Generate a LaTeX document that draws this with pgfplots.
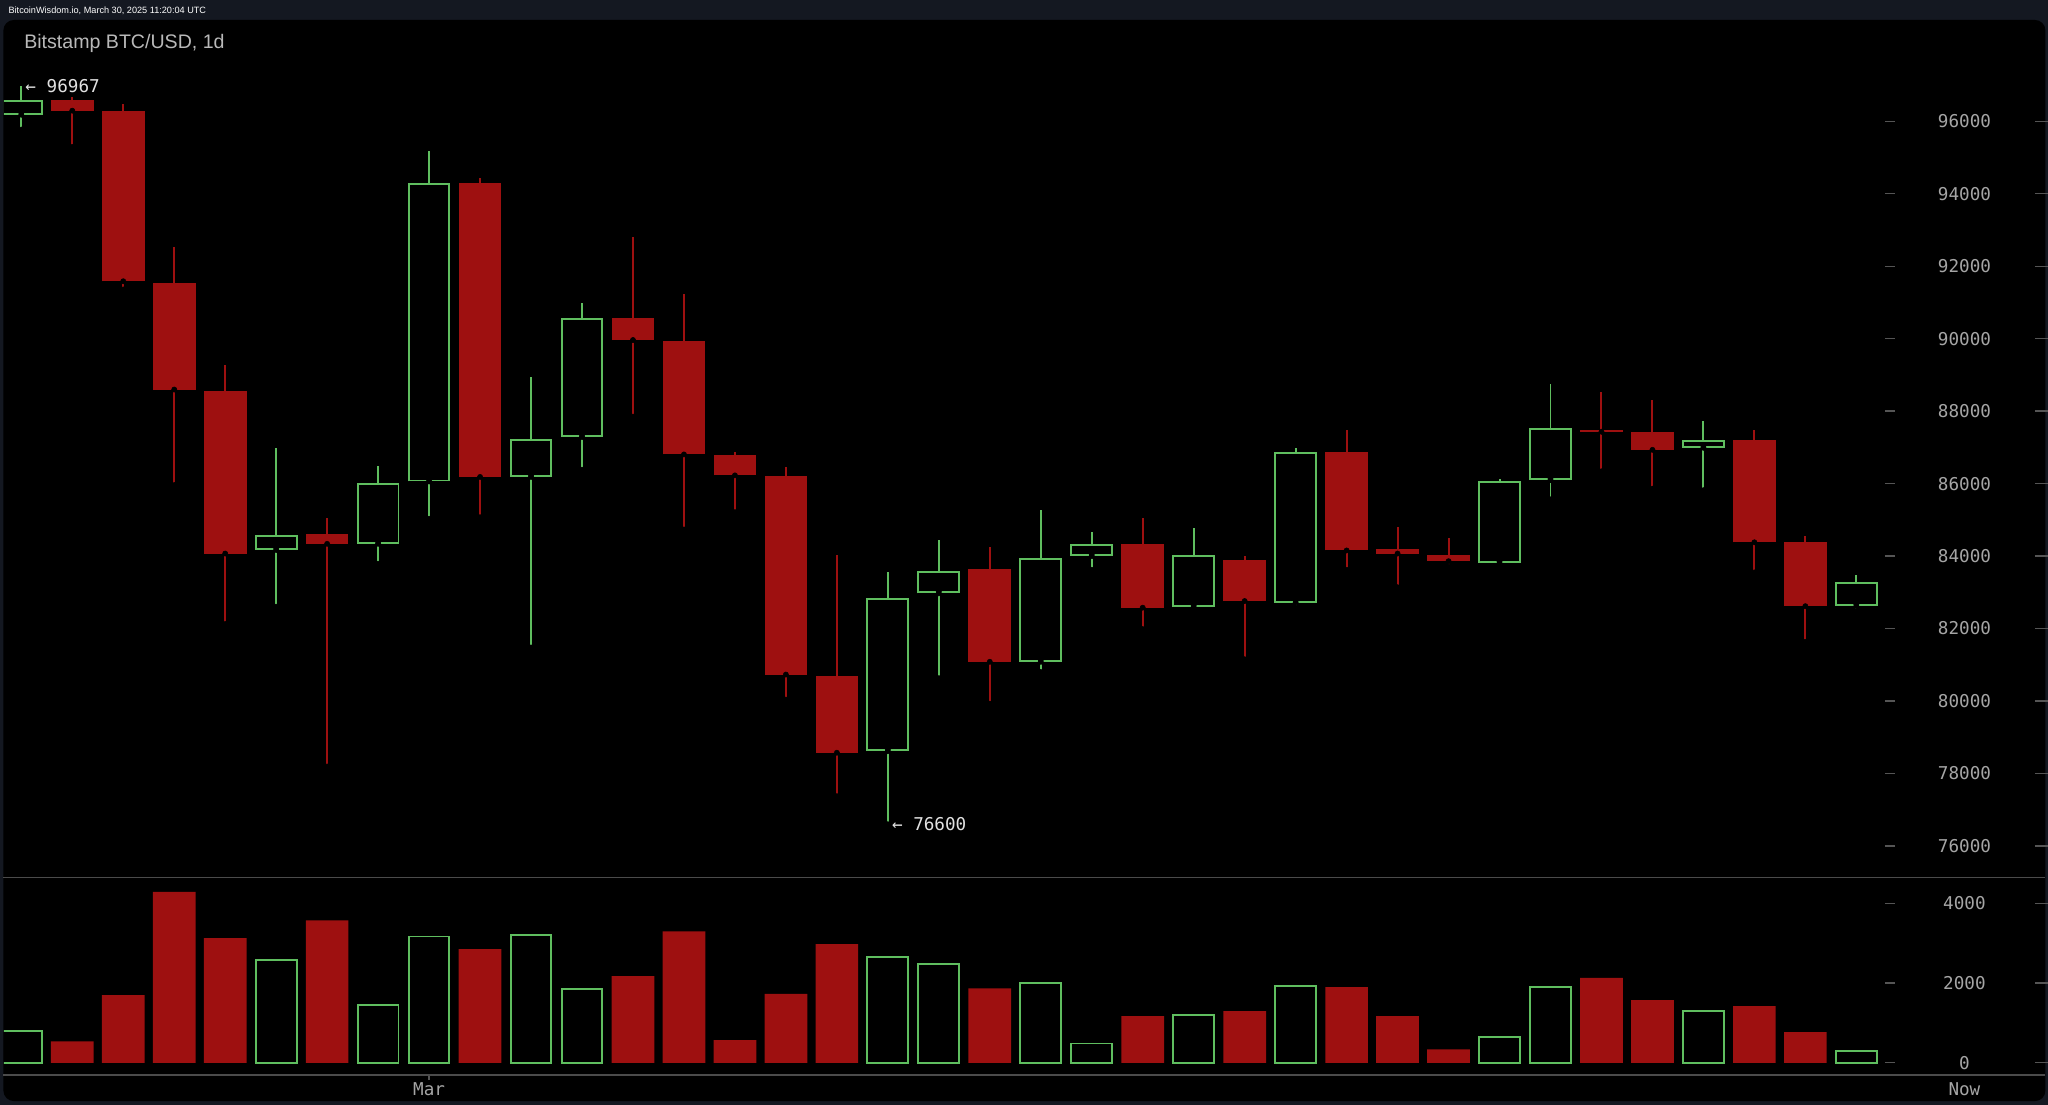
\documentclass[border=0pt]{standalone}
\usepackage{pgfplots}
\pgfplotsset{compat=1.18}
\usepackage{pgfplotstable}
\usepackage{fontspec}
\setmainfont{Liberation Sans}
\newfontfamily\monofont{DejaVu Sans Mono}
\definecolor{navy}{RGB}{20,24,33}
\definecolor{cred}{RGB}{158,16,16}
\definecolor{cgreen}{RGB}{95,190,95}
\definecolor{tickgray}{RGB}{165,165,165}
\definecolor{dashgray}{RGB}{85,85,85}
\definecolor{sepgray}{RGB}{75,75,75}
\definecolor{titlegray}{RGB}{185,185,185}
\definecolor{annotwhite}{RGB}{225,225,225}
\newcommand{\tickfont}{\monofont\fontsize{13.5}{16}\selectfont}
\newcommand{\ytl}[1]{\makebox[0pt][r]{\textcolor{dashgray}{\rule[4.4pt]{8pt}{1pt}}\hspace{53pt}}\makebox[0pt]{#1}\makebox[0pt][l]{\hspace{54pt}\textcolor{dashgray}{\rule[4.4pt]{10pt}{1pt}}}}

\pgfplotstableread{
x o h l c v
0 96178 96967 95769 96572 803
5 84169 86988 82604 84592 2569
7 84338 86494 83788 86015 1448
8 86058 95177 85029 94289 3171
10 86184 88933 81477 87242 3213
11 87284 90991 86382 90582 1849
17 78615 83549 76600 82844 2644
18 82971 84437 80631 83591 2485
20 81082 85282 80800 83957 2008
21 84000 84662 83619 84338 485
23 82590 84761 82477 84042 1205
25 82717 86974 82576 86861 1933
29 83802 86114 83790 86058 653
30 86100 88750 85564 87523 1891
33 86988 87735 85818 87199 1289
36 82620 83464 82477 83295 293
}\greentab

\pgfplotstableread{
x o h l c v
1 96572 96671 95290 96290 536
2 96276 96488 91357 91583 1699
3 91526 92527 85959 88595 4293
4 88566 89285 82125 84070 3130
6 84606 85043 78193 84338 3573
9 94289 94430 85071 86184 2853
12 90582 92795 87848 89962 2176
13 89934 91244 84733 86805 3297
14 86777 86861 85212 86227 569
15 86198 86466 80039 80730 1732
16 80701 84028 77375 78573 2979
19 83647 84253 79926 81082 1866
22 84338 85057 81984 82576 1172
24 83901 84000 81152 82759 1297
26 86861 87481 83619 84155 1900
27 84183 84803 83140 84070 1172
28 84042 84493 83704 83859 335
31 87475 88524 86339 87430 2134
32 87425 88313 85860 86931 1573
34 87199 87481 83549 84380 1423
35 84394 84563 81632 82618 770
}\redtab

\pgfplotsset{
  candlewick/.style={only marks, mark=none, forget plot,
    error bars/.cd, y dir=plus, y explicit, error mark=none,
    error bar style={line width=1.5pt, color=#1}},
  candlebody/.style 2 args={only marks, mark=none, forget plot,
    error bars/.cd, y dir=plus, y explicit, error mark=none,
    error bar style={line width=#2, color=#1}},
}

\begin{document}
\begin{tikzpicture}
\useasboundingbox (0,0) rectangle (1568pt,-846pt);
\fill[navy] (0,0) rectangle (1568pt,-846pt);
\fill[black, rounded corners=8pt] (2.6pt,-15.3pt) rectangle (1566pt,-843pt);
\node[anchor=base west, inner sep=0pt, text=white, font=\fontsize{7}{8}\selectfont] at (6.4pt,-10.7pt) {BitcoinWisdom.io, March 30, 2025 11:20:04 UTC};
\node[anchor=base west, inner sep=0pt, text=titlegray, font=\fontsize{15}{18}\selectfont] at (18.4pt,-37pt) {Bitstamp BTC/USD, 1d};

% price axis
\begin{axis}[
  at={(3pt,-672pt)}, anchor=south west,
  scale only axis, width=1440pt, height=656.7pt,
  xmin=-0.341, xmax=36.558, ymin=75124, ymax=98793,
  axis line style={draw=none},
  scaled y ticks=false, scaled x ticks=false,
  xtick=\empty,
  ytick={76000,78000,80000,82000,84000,86000,88000,90000,92000,94000,96000},
  yticklabels={\ytl{76000},\ytl{78000},\ytl{80000},\ytl{82000},\ytl{84000},\ytl{86000},\ytl{88000},\ytl{90000},\ytl{92000},\ytl{94000},\ytl{96000}},
  ytick pos=right, yticklabel pos=right,
  ytick style={draw=none},
  yticklabel style={anchor=center, xshift=61pt, inner sep=0pt, font=\tickfont, text=tickgray},
]
\addplot[candlewick=cgreen] table[x=x, y=l, y error plus expr=\thisrow{h}-\thisrow{l}] {\greentab};
\addplot[candlewick=cred] table[x=x, y=l, y error plus expr=\thisrow{h}-\thisrow{l}] {\redtab};
\addplot[candlebody={cgreen}{32.7pt}] table[x=x, y=o, y error plus expr=\thisrow{c}-\thisrow{o}] {\greentab};
\addplot[candlebody={black}{29.7pt}] table[x=x, y expr=\thisrow{o}+54, y error plus expr=\thisrow{c}-\thisrow{o}-108] {\greentab};
\addplot[candlebody={cred}{32.7pt}] table[x=x, y=c, y error plus expr=\thisrow{o}-\thisrow{c}] {\redtab};
\node[anchor=west, inner sep=0pt, xshift=3pt, text=annotwhite, font=\tickfont] at (axis cs:0,96967) {← 96967};
\node[anchor=west, inner sep=0pt, xshift=3pt, text=annotwhite, font=\tickfont] at (axis cs:17,76600) {← 76600};
\end{axis}

% volume axis
\begin{axis}[
  at={(3pt,-823pt)}, anchor=south west,
  scale only axis, width=1440pt, height=151pt,
  xmin=-0.341, xmax=36.558, ymin=-305, ymax=4646,
  axis line style={draw=none},
  scaled y ticks=false, scaled x ticks=false,
  xtick={8}, xticklabels={Mar}, xtick pos=left, xtick align=outside,
  major tick length=4pt,
  xtick style={draw=dashgray, line width=1pt},
  xticklabel style={anchor=base, yshift=-11.5pt, inner sep=0pt, font=\tickfont, text=tickgray},
  ytick={0,2000,4000},
  yticklabels={\ytl{0},\ytl{2000},\ytl{4000}},
  ytick pos=right, yticklabel pos=right,
  ytick style={draw=none},
  yticklabel style={anchor=center, xshift=61pt, inner sep=0pt, font=\tickfont, text=tickgray},
]
\addplot[ybar, bar shift=0pt, bar width=32.7pt, fill=cred, draw=none, forget plot] table[x=x, y=v] {\redtab};
\addplot[ybar, bar shift=0pt, bar width=31.2pt, fill=black, draw=cgreen, line width=1.5pt, forget plot] table[x=x, y=v] {\greentab};
\end{axis}

\draw[sepgray, line width=1pt] (2.6pt,-672pt) -- (1566pt,-672pt);
\draw[sepgray, line width=1pt] (2.6pt,-823pt) -- (1566pt,-823pt);
\node[anchor=base, inner sep=0pt, text=tickgray, font=\tickfont] at (1504pt,-838.5pt) {Now};
\end{tikzpicture}
\end{document}
